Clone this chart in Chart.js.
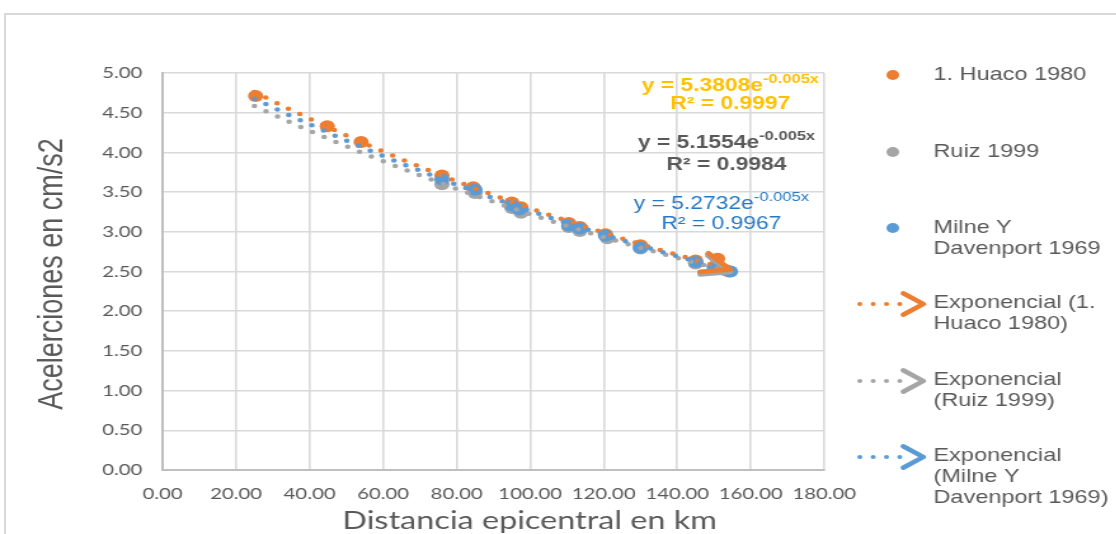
<!DOCTYPE html>
<html>
<head>
<meta charset="utf-8">
<script src="https://cdn.jsdelivr.net/npm/chart.js@4.4.0/dist/chart.umd.min.js"></script>
<style>
  body { margin: 0; background: #fff; }
  #wrap { position: relative; width: 1116px; height: 534px; overflow: hidden; }
  #frame { position: absolute; left: 4px; top: 13px; right: -4px; bottom: -4px;
           border-top: 2px solid #d9d9d9; border-left: 2px solid #d9d9d9; }
  #stage { position: absolute; left: 0; top: 0; transform: scaleX(1.27); transform-origin: 0 0; }
</style>
</head>
<body>
<div id="wrap">
  <div id="frame"></div>
  <div id="stage"><canvas id="chart"></canvas></div>
</div>
<script>
// the sheet is rendered wide, so the canvas is drawn narrow and stretched
const STRETCH = 1.27;

const seriesNames = ['1. Huaco 1980', 'Ruiz 1999', 'Milne Y Davenport 1969'];
const seriesColors = ['#ED7D31', '#A5A5A5', '#5B9BD5'];

// distancia epicentral (km) / aceleracion (cm/s2)
const huacoX = [25.3, 44.8, 54.0, 76.0, 84.5, 95.0, 97.5, 110.5, 113.5, 120.5, 130.0, 145.0, 151.0, 153.0];
const huacoY = [4.71, 4.33, 4.13, 3.71, 3.56, 3.37, 3.31, 3.11, 3.06, 2.97, 2.83, 2.64, 2.66, 2.52];
const ruizX = [76.0, 85.0, 95.0, 97.5, 110.5, 113.5, 121.0, 130.0, 145.0, 151.0, 154.0];
const ruizY = [3.60, 3.49, 3.30, 3.24, 3.06, 3.01, 2.92, 2.79, 2.60, 2.53, 2.50];
const milneX = [76.0, 85.0, 95.0, 97.0, 110.5, 113.5, 120.5, 130.0, 145.0, 150.0, 154.5];
const milneY = [3.66, 3.53, 3.33, 3.28, 3.08, 3.04, 2.95, 2.80, 2.62, 2.56, 2.50];

// exponential trendlines y = a * e^(b x); b is shown rounded to 3 decimals
const fitA = [5.3808, 5.1554, 5.2732];
const fitB = [-0.0049, -0.0047, -0.0048];
const fitR2 = [0.9997, 0.9984, 0.9967];
const trendX = [25, 35, 45, 55, 65, 75, 85, 95, 105, 115, 125, 135, 145, 154.5];

const eqColors = ['#FFC000', '#595959', '#2478C6'];
const eqBold = [true, true, false];

const legendLines = [
  ['1. Huaco 1980'],
  ['Ruiz 1999'],
  ['Milne Y', 'Davenport 1969'],
  ['Exponencial (1.', 'Huaco 1980)'],
  ['Exponencial', '(Ruiz 1999)'],
  ['Exponencial', '(Milne Y', 'Davenport 1969)']
];

const xTitle = 'Distancia epicentral en km';
const yTitle = 'Acelerciones en cm/s2';

const W = Math.round(1116 / STRETCH);
const H = 534;
const canvas = document.getElementById('chart');
canvas.width = W;
canvas.height = H;

const toPoints = (xs, ys) => xs.map((x, i) => ({ x: x, y: ys[i] }));
const trendPoints = i => trendX.map(x => ({ x: x, y: fitA[i] * Math.exp(fitB[i] * x) }));

const ARIAL = '"Liberation Sans", Arial, sans-serif';

function chevron(ctx, x, y, angle, len, spread, color, width) {
  ctx.save();
  ctx.strokeStyle = color;
  ctx.lineWidth = width;
  ctx.lineCap = 'round';
  ctx.lineJoin = 'round';
  ctx.beginPath();
  ctx.moveTo(x - len * Math.cos(angle - spread), y - len * Math.sin(angle - spread));
  ctx.lineTo(x, y);
  ctx.lineTo(x - len * Math.cos(angle + spread), y - len * Math.sin(angle + spread));
  ctx.stroke();
  ctx.restore();
}

function drawEquation(ctx, i, cx, y1, y2) {
  const weight = eqBold[i] ? 'bold ' : '';
  const main = 'y = ' + fitA[i].toFixed(4) + 'e';
  const sup = fitB[i].toFixed(3) + 'x';
  const r2 = 'R\u00b2 = ' + fitR2[i].toFixed(4);
  ctx.fillStyle = eqColors[i];
  ctx.textBaseline = 'middle';
  ctx.font = weight + '18px ' + ARIAL;
  const wMain = ctx.measureText(main).width;
  ctx.font = weight + '13px ' + ARIAL;
  const wSup = ctx.measureText(sup).width;
  const x0 = cx - (wMain + wSup) / 2;
  ctx.textAlign = 'left';
  ctx.font = weight + '18px ' + ARIAL;
  ctx.fillText(main, x0, y1);
  ctx.font = weight + '13px ' + ARIAL;
  ctx.fillText(sup, x0 + wMain, y1 - 7);
  ctx.font = weight + '18px ' + ARIAL;
  ctx.textAlign = 'center';
  ctx.fillText(r2, cx, y2);
}

const overlay = {
  id: 'overlay',
  afterDatasetsDraw(chart) {
    const ctx = chart.ctx;
    // arrow heads on the forward end of each trendline
    for (let i = 2; i >= 0; i--) {
      const pts = chart.getDatasetMeta(i).data;
      const a = pts[pts.length - 2], b = pts[pts.length - 1];
      const ang = Math.atan2(b.y - a.y, b.x - a.x);
      chevron(ctx, b.x, b.y, ang, 24, 0.42, seriesColors[i], 4.5);
    }
  },
  afterDraw(chart) {
    const ctx = chart.ctx;
    ctx.save();

    drawEquation(ctx, 0, 575, 86, 104);
    drawEquation(ctx, 1, 572, 143, 165);
    drawEquation(ctx, 2, 568, 204, 224);

    // legend
    const rowTop = [75, 152, 228, 303, 380, 456];
    ctx.font = '18.5px ' + ARIAL;
    ctx.fillStyle = '#595959';
    ctx.textAlign = 'left';
    ctx.textBaseline = 'middle';
    legendLines.forEach((lines, k) => {
      lines.forEach((t, j) => ctx.fillText(t, 735, rowTop[k] + j * 21));
    });
    for (let k = 0; k < 3; k++) {
      const y = rowTop[k];
      ctx.fillStyle = seriesColors[k];
      ctx.beginPath();
      ctx.ellipse(703, y, 5, 5, 0, 0, Math.PI * 2);
      ctx.fill();
    }
    for (let k = 0; k < 3; k++) {
      const y = rowTop[k + 3] + 1;
      const c = seriesColors[k];
      ctx.save();
      ctx.strokeStyle = c;
      ctx.lineWidth = 4;
      ctx.lineCap = 'round';
      ctx.setLineDash([0, 10.5]);
      ctx.beginPath();
      ctx.moveTo(677, y);
      ctx.lineTo(716, y);
      ctx.stroke();
      ctx.restore();
      chevron(ctx, 727, y, 0, 19, 0.6, c, 4.5);
    }

    // axis titles
    ctx.fillStyle = '#595959';
    ctx.textAlign = 'center';
    ctx.textBaseline = 'middle';
    ctx.font = '25.5px Lato, ' + ARIAL;
    ctx.fillText(xTitle, 417, 521);
    ctx.translate(42, 274);
    ctx.rotate(-Math.PI / 2);
    ctx.font = '27px ' + ARIAL;
    ctx.fillText(yTitle, 0, 0);
    ctx.restore();
  }
};

const scatterSet = (i, xs, ys) => ({
  type: 'scatter',
  label: seriesNames[i],
  data: toPoints(xs, ys),
  backgroundColor: seriesColors[i],
  borderColor: seriesColors[i],
  borderWidth: 0,
  pointRadius: 6,
  showLine: false,
  order: 6 - i
});

const trendSet = i => ({
  type: 'scatter',
  label: 'Exponencial (' + seriesNames[i] + ')',
  data: trendPoints(i),
  showLine: true,
  pointRadius: 0,
  borderColor: seriesColors[i],
  borderWidth: 4.5,
  borderDash: [0, 10.5],
  borderCapStyle: 'round',
  fill: false,
  order: 3 - i
});

new Chart(canvas, {
  type: 'scatter',
  data: {
    datasets: [
      trendSet(0), trendSet(1), trendSet(2),
      scatterSet(0, huacoX, huacoY),
      scatterSet(1, ruizX, ruizY),
      scatterSet(2, milneX, milneY)
    ]
  },
  options: {
    responsive: false,
    animation: false,
    layout: { padding: { top: 73, right: W - 649, left: 0, bottom: 0 } },
    plugins: { legend: { display: false }, tooltip: { enabled: false } },
    scales: {
      x: {
        type: 'linear', min: 0, max: 180,
        afterFit: s => { s.height = 64; },
        grid: { color: '#d9d9d9', lineWidth: 1.6, drawTicks: false },
        border: { color: '#bfbfbf', width: 2 },
        ticks: {
          stepSize: 20, maxRotation: 0, padding: 14, color: '#595959',
          font: { family: 'Lato', size: 16 },
          callback: v => v.toFixed(2)
        }
      },
      y: {
        type: 'linear', min: 0, max: 5,
        afterFit: s => { s.width = 128; },
        grid: { color: '#d9d9d9', lineWidth: 1.6, drawTicks: false },
        border: { color: '#bfbfbf', width: 2 },
        ticks: {
          stepSize: 0.5, padding: 16, color: '#595959',
          font: { family: 'Lato', size: 16 },
          callback: v => v.toFixed(2)
        }
      }
    }
  },
  plugins: [overlay]
});
</script>
</body>
</html>
